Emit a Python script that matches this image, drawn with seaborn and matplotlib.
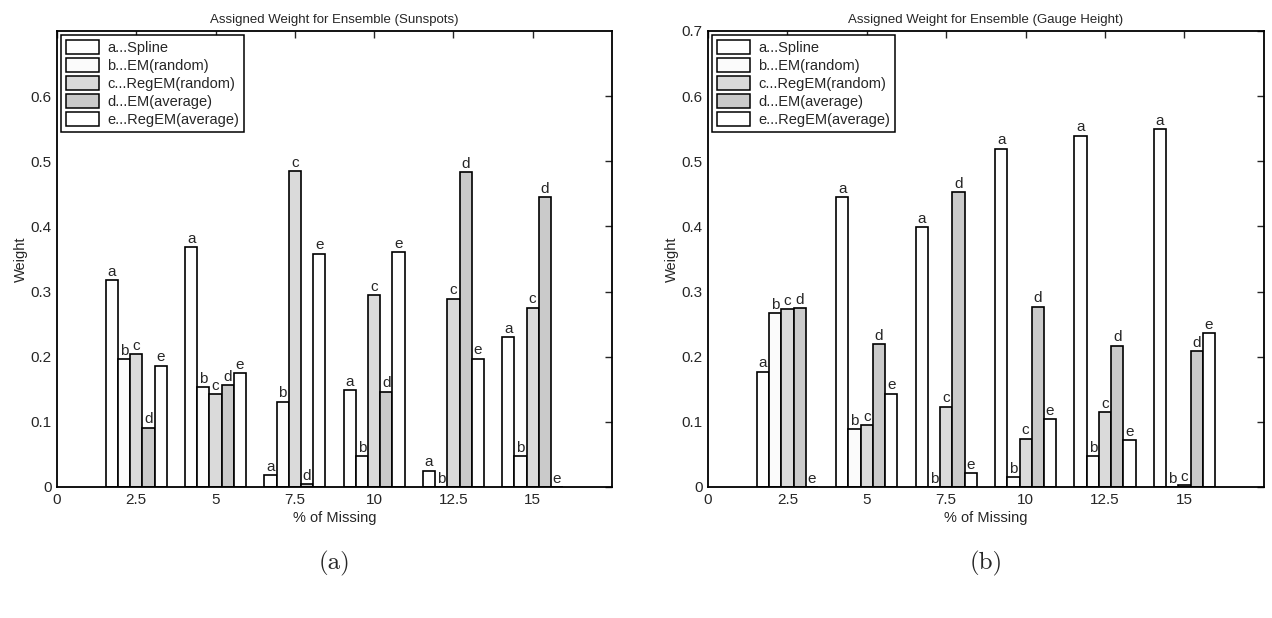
import matplotlib
matplotlib.use("Agg")
import matplotlib.pyplot as plt
import seaborn as sns
import pandas as pd
from matplotlib.patches import Patch

# % of missing values (groups)
missing = ["2.5", "5", "7.5", "10", "12.5", "15"]
methods = ["a...Spline", "b...EM(random)", "c...RegEM(random)", "d...EM(average)", "e...RegEM(average)"]
letters = ["a", "b", "c", "d", "e"]
colors = ["#ffffff", "#fbfbfb", "#dadada", "#cacaca", "#ffffff"]

# weights, one list per method (a..e) over the groups
sunspots = {
    "a": [0.317, 0.368, 0.018, 0.149, 0.025, 0.230],
    "b": [0.196, 0.153, 0.131, 0.047, 0.000, 0.047],
    "c": [0.204, 0.142, 0.485, 0.294, 0.289, 0.275],
    "d": [0.091, 0.156, 0.004, 0.146, 0.483, 0.445],
    "e": [0.186, 0.175, 0.358, 0.360, 0.197, 0.000],
}
gauge = {
    "a": [0.177, 0.445, 0.399, 0.519, 0.539, 0.549],
    "b": [0.267, 0.089, 0.000, 0.015, 0.047, 0.000],
    "c": [0.273, 0.095, 0.123, 0.074, 0.115, 0.003],
    "d": [0.274, 0.219, 0.452, 0.277, 0.217, 0.208],
    "e": [0.000, 0.143, 0.021, 0.104, 0.072, 0.236],
}


def to_frame(weights):
    rows = []
    for letter, name in zip(letters, methods):
        for m, w in zip(missing, weights[letter]):
            rows.append({"missing": m, "method": name, "weight": w})
    return pd.DataFrame(rows)


sns.set_style("white")
plt.rcParams["font.family"] = ["Liberation Sans", "DejaVu Sans"]

fig = plt.figure(figsize=(12.72, 6.18), dpi=100)
fig.patch.set_facecolor("white")
ax1 = fig.add_axes([0.0448, 0.212, 0.4363, 0.738])
ax2 = fig.add_axes([0.5566, 0.212, 0.4370, 0.738])

panels = [
    (ax1, sunspots, "Assigned Weight for Ensemble (Sunspots)", [0, 0.1, 0.2, 0.3, 0.4, 0.5, 0.6], "(a)"),
    (ax2, gauge, "Assigned Weight for Ensemble (Gauge Height)", [0, 0.1, 0.2, 0.3, 0.4, 0.5, 0.6, 0.7], "(b)"),
]

for ax, weights, title, yticks, tag in panels:
    df = to_frame(weights)
    sns.barplot(data=df, x="missing", y="weight", hue="method", hue_order=methods,
                order=missing, palette=colors, edgecolor="black", linewidth=1.2,
                width=0.77, gap=0, errorbar=None, legend=False, ax=ax)
    for cont, letter in zip(ax.containers, letters):
        ax.bar_label(cont, labels=[letter] * len(cont), padding=1, fontsize=11)

    ax.set_xlim(-1, 6)
    ax.set_ylim(0, 0.7)
    ax.set_xticks(range(-1, 6))
    ax.set_xticklabels(["0"] + missing, fontsize=11)
    ax.set_yticks(yticks)
    ax.set_yticklabels([f"{t:g}" for t in yticks], fontsize=11)
    ax.tick_params(direction="in", top=True, right=True, length=5, width=1, pad=4)
    for s in ax.spines.values():
        s.set_visible(True)
        s.set_color("black")
        s.set_linewidth(1.3)
    ax.set_xlabel("% of Missing", fontsize=10.5, labelpad=3)
    ax.set_ylabel("Weight", fontsize=10.5, labelpad=2)
    ax.set_title(title, fontsize=9.5, pad=6)

    handles = [Patch(facecolor=c, edgecolor="black", linewidth=1.1) for c in colors]
    leg = ax.legend(handles, methods, loc="upper left", fontsize=10.5, frameon=True,
                    fancybox=False, edgecolor="black", framealpha=1,
                    handlelength=2.3, handleheight=1.1, labelspacing=0.22,
                    borderpad=0.3, handletextpad=0.55, borderaxespad=0.3)
    leg.get_frame().set_linewidth(1.1)

    pos = ax.get_position()
    fig.text(pos.x0 + pos.width / 2, 0.088, tag, ha="center", va="center",
             fontsize=18, family=["cmr10", "DejaVu Serif"])

fig.savefig("out.png", dpi=100, facecolor="white")
